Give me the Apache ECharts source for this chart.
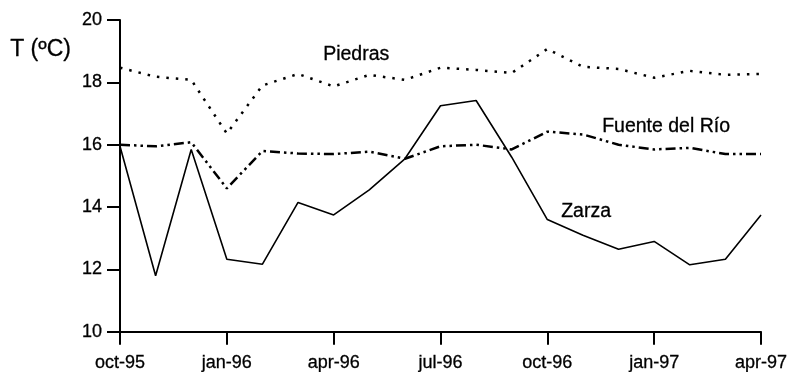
<!DOCTYPE html>
<html><head><meta charset="utf-8">
<script src="https://cdn.jsdelivr.net/npm/echarts@6/dist/echarts.min.js"></script>
<style>html,body{margin:0;padding:0;background:#fff}#c{width:796px;height:372px}</style>
</head><body><div id="c"></div>
<script>
const months = ['oct-95','nov-95','dec-95','jan-96','feb-96','mar-96','apr-96','may-96','jun-96','jul-96','aug-96','sep-96','oct-96','nov-96','dec-96','jan-97','feb-97','mar-97','apr-97'];
const piedras = [18.47,18.18,18.08,16.36,17.9,18.27,17.87,18.24,18.08,18.47,18.4,18.3,19.07,18.5,18.43,18.15,18.37,18.24,18.27];
const fuente  = [16.0,15.95,16.08,14.6,15.8,15.72,15.7,15.78,15.55,15.95,16.0,15.85,16.42,16.33,16.0,15.85,15.9,15.7,15.7];
const zarza   = [15.95,11.8,15.85,12.33,12.17,14.15,13.75,14.55,15.55,17.25,17.42,15.6,13.6,13.1,12.65,12.9,12.15,12.33,13.75];
const yTicks = [10,12,14,16,18,20];

const font = 'Liberation Sans, Arial, sans-serif';
const fs = 18;
const chart = echarts.init(document.getElementById('c'));
chart.setOption({
  animation: false,
  backgroundColor: '#fff',
  grid: {left: 120, right: 35, top: 20, bottom: 39},
  xAxis: {
    type: 'category', data: months, boundaryGap: false,
    axisLine: {lineStyle: {color: '#000', width: 2}},
    axisTick: {interval: 2, length: 13, lineStyle: {color: '#000', width: 2}},
    axisLabel: {interval: 2, color: '#000', fontFamily: font, fontSize: fs, margin: 22,
                textBorderColor: '#000', textBorderWidth: 0.3},
    splitLine: {show: false}
  },
  yAxis: {
    type: 'value', min: yTicks[0], max: yTicks[yTicks.length-1], interval: 2,
    axisLine: {show: true, lineStyle: {color: '#000', width: 2}},
    axisTick: {show: true, length: 13, lineStyle: {color: '#000', width: 2}},
    axisLabel: {color: '#000', fontFamily: font, fontSize: fs, margin: 18,
                textBorderColor: '#000', textBorderWidth: 0.3},
    splitLine: {show: false}
  },
  graphic: [
    {type: 'text', left: 10, top: 38, style: {text: 'T (ºC)', fontFamily: font, fontSize: 23, fill: '#000', stroke: '#000', lineWidth: 0.3}},
    {type: 'text', left: 323, top: 44, style: {text: 'Piedras', fontFamily: font, fontSize: 19.5, fill: '#000', stroke: '#000', lineWidth: 0.3}},
    {type: 'text', left: 602, top: 116, style: {text: 'Fuente del Río', fontFamily: font, fontSize: 19.5, fill: '#000', stroke: '#000', lineWidth: 0.3}},
    {type: 'text', left: 561, top: 201, style: {text: 'Zarza', fontFamily: font, fontSize: 19.5, fill: '#000', stroke: '#000', lineWidth: 0.3}}
  ],
  series: [
    {name: 'Piedras', type: 'line', data: piedras, symbol: 'none',
     lineStyle: {color: '#000', width: 2.5, type: [2.5, 7], cap: 'butt'}},
    {name: 'Fuente del Río', type: 'line', data: fuente, symbol: 'none',
     lineStyle: {color: '#000', width: 2.5, type: [10, 4, 2.5, 4, 2.5, 4]}},
    {name: 'Zarza', type: 'line', data: zarza, symbol: 'none',
     lineStyle: {color: '#000', width: 1.6}}
  ]
});
</script></body></html>
